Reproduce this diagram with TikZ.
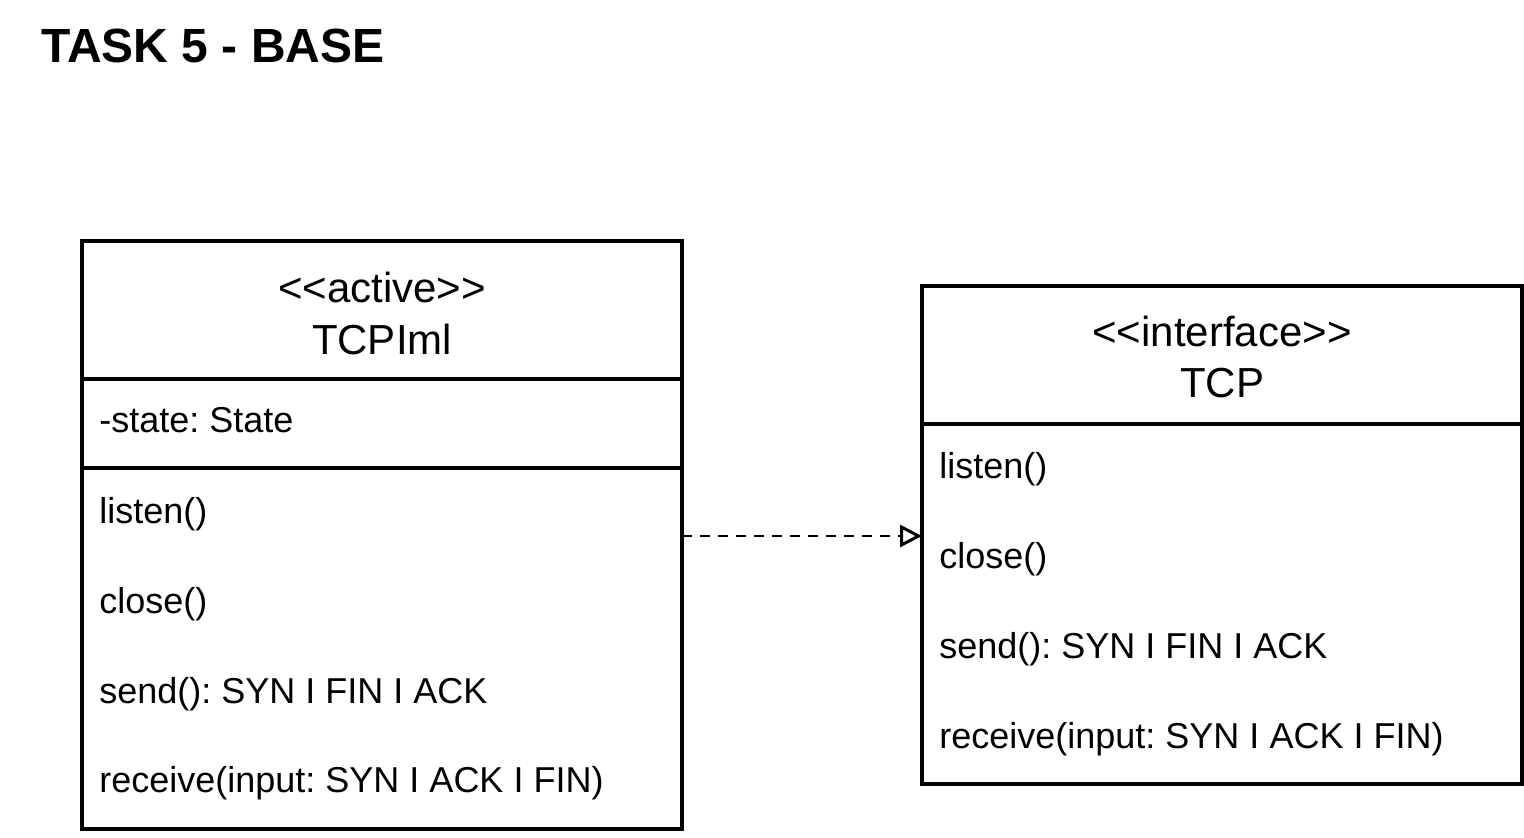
\documentclass[tikz,border=0pt]{standalone}
\usepackage{fontspec}
\setmainfont{Liberation Sans}[Ligatures=TeXOff]
\usetikzlibrary{arrows.meta}
\frenchspacing
\begin{document}
\begin{tikzpicture}[x=0.5pt,y=-0.5pt,
  box/.style={draw=black,line width=1.6pt,minimum width=300pt,inner sep=0pt,outer sep=0pt,anchor=north west,fill=white},
  body/.style={font=\fontsize{18}{22}\selectfont,anchor=base west,inner sep=0pt},
  head/.style={font=\fontsize{21}{25}\selectfont,anchor=base,inner sep=0pt},
  realize/.style={line width=1.4pt,dash pattern=on 5pt off 4pt,-{Triangle[open,length=11pt,width=11pt,line width=1.5pt]}}]
\useasboundingbox[fill=white] (0,0) rectangle (1524,837);
\node[font=\fontsize{24}{28}\selectfont\bfseries,anchor=base west,inner sep=0pt] (title) at (41,62) {TASK 5 - BASE};
% class TCPIml
\node[box,minimum height=69pt] (h1) at (82,241) {};
\node[box,minimum height=44.5pt] (a1) at (82,379) {};
\node[box,minimum height=180.5pt] (m1) at (82,468) {};
\node[head] (s1) at (382,302) {<<active>>};
\node[head] (n1) at (382,354) {TCPIml};
\node[body] (t1) at (99,432) {-state: State};
\node[body] (l1) at (99,523) {listen()};
\node[body] (c1) at (99,613) {close()};
\node[body] (d1) at (99,703) {send(): SYN I FIN I ACK};
\node[body] (r1) at (99,792) {receive(input: SYN I ACK I FIN)};
% interface TCP
\node[box,minimum height=69pt] (h2) at (922,286) {};
\node[box,minimum height=180pt] (m2) at (922,424) {};
\node[head] (s2) at (1222,346) {<<interface>>};
\node[head] (n2) at (1222,397) {TCP};
\node[body] (l2) at (939,478) {listen()};
\node[body] (c2) at (939,568) {close()};
\node[body] (d2) at (939,658) {send(): SYN I FIN I ACK};
\node[body] (r2) at (939,748) {receive(input: SYN I ACK I FIN)};
% realization
\coordinate (arr) at (800,536);
\draw[realize] (m1.east |- arr) -- (m2.west |- arr);
\end{tikzpicture}
\end{document}
